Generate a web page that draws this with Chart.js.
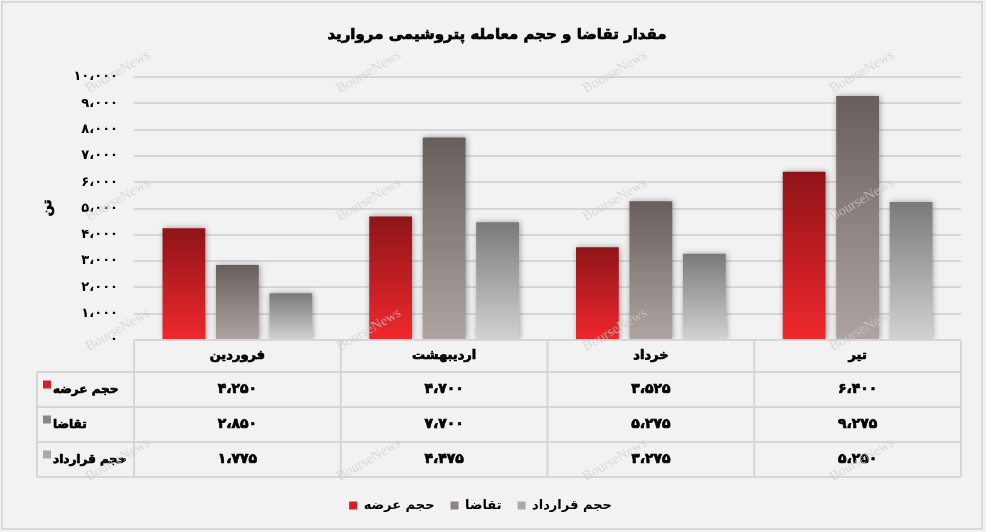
<!DOCTYPE html>
<html>
<head>
<meta charset="utf-8">
<script src="https://cdn.jsdelivr.net/npm/chart.js@4.4.0/dist/chart.umd.min.js"></script>
<style>
  html, body { margin: 0; padding: 0; background: #f2f2f2; }
  canvas { display: block; }
</style>
</head>
<body>
<canvas id="chart" width="986" height="532"></canvas>
<script>
// months and series
const months = ['فروردین', 'اردیبهشت', 'خرداد', 'تیر'];
const seriesNames = ['حجم عرضه', 'تقاضا', 'حجم قرارداد'];
const supply = [4250, 4700, 3525, 6400];
const demand = [2850, 7700, 5275, 9275];
const contract = [1775, 4475, 3275, 5250];
const yMax = 10000;
const yStep = 1000;
const chartTitle = 'مقدار تقاضا و حجم معامله پتروشیمی مروارید';

const FONT = "'DejaVu Sans', sans-serif";
const legendColors = ['#d42126', '#8f8482', '#aaaaaa'];

// english digits -> persian digits, comma -> arabic comma
function fa(n) {
  return Number(n).toLocaleString('en-US')
    .replace(/\d/g, d => '۰۱۲۳۴۵۶۷۸۹'[d])
    .replace(/,/g, '،');
}

function barGrad(top, bottom) {
  return ctx => {
    const c = ctx.chart;
    if (ctx.type !== 'data' || !c.chartArea) return bottom;
    const y = c.scales.y.getPixelForValue(ctx.raw);
    const base = c.scales.y.getPixelForValue(0);
    const g = c.ctx.createLinearGradient(0, y, 0, base);
    g.addColorStop(0, top);
    g.addColorStop(1, bottom);
    return g;
  };
}

// heavier text: fill plus thin stroke
function boldText(ctx, s, x, y) {
  ctx.fillText(s, x, y);
  ctx.strokeText(s, x, y);
}

const tableRows = [supply, demand, contract];

const extras = {
  id: 'extras',
  beforeDraw(chart) {
    const ctx = chart.ctx;
    ctx.save();
    ctx.fillStyle = '#f2f2f2';
    ctx.fillRect(0, 0, chart.width, chart.height);
    ctx.restore();
  },
  beforeDatasetsDraw(chart) {
    const ctx = chart.ctx;
    ctx.save();
    ctx.shadowColor = 'rgba(0,0,0,0.35)';
    ctx.shadowBlur = 6;
    ctx.shadowOffsetX = 1;
    ctx.shadowOffsetY = 0;
  },
  afterDatasetsDraw(chart) {
    const ctx = chart.ctx;
    ctx.restore();

    // data table under the plot
    const xs = chart.scales.x;
    const area = chart.chartArea;
    const half = (area.right - area.left) / months.length / 2;
    const rowsY = [area.bottom, 372, 407, 442, 477];
    const leftX = 37;

    ctx.save();
    ctx.strokeStyle = '#d6d6d6';
    ctx.lineWidth = 2;
    ctx.beginPath();
    ctx.moveTo(area.left, rowsY[0]);
    ctx.lineTo(area.right, rowsY[0]);
    for (let r = 1; r < rowsY.length; r++) {
      ctx.moveTo(leftX, rowsY[r]);
      ctx.lineTo(area.right, rowsY[r]);
    }
    ctx.moveTo(leftX, rowsY[1]);
    ctx.lineTo(leftX, rowsY[4]);
    for (let i = 0; i <= months.length; i++) {
      const x = i < months.length ? xs.getPixelForValue(i) - half : xs.getPixelForValue(i - 1) + half;
      ctx.moveTo(x, rowsY[0]);
      ctx.lineTo(x, rowsY[4]);
    }
    ctx.stroke();

    ctx.fillStyle = '#000';
    ctx.strokeStyle = '#000';
    ctx.lineWidth = 0.7;
    ctx.textAlign = 'center';
    ctx.textBaseline = 'middle';
    ctx.font = 'bold 13px ' + FONT;
    months.forEach((m, i) => {
      boldText(ctx, m, xs.getPixelForValue(i), (rowsY[0] + rowsY[1]) / 2);
    });
    ctx.font = 'bold 14px ' + FONT;
    tableRows.forEach((vals, r) => {
      const cy = (rowsY[r + 1] + rowsY[r + 2]) / 2;
      vals.forEach((v, i) => {
        boldText(ctx, fa(v), xs.getPixelForValue(i), cy);
      });
    });
    ctx.font = 'bold 12px ' + FONT;
    tableRows.forEach((vals, r) => {
      const cy = (rowsY[r + 1] + rowsY[r + 2]) / 2;
      ctx.fillStyle = legendColors[r];
      ctx.fillRect(43, cy - 9, 8, 8);
      ctx.fillStyle = '#000';
      ctx.textAlign = 'left';
      boldText(ctx, seriesNames[r], 53, cy);
    });

    // chart title
    ctx.textAlign = 'center';
    ctx.font = 'bold 15px ' + FONT;
    boldText(ctx, chartTitle, 497, 35);

    // y axis title
    ctx.translate(48, 208);
    ctx.rotate(-Math.PI / 2);
    ctx.font = 'bold 13px ' + FONT;
    boldText(ctx, 'تن', 0, 0);
    ctx.restore();
  },
  afterDraw(chart) {
    const ctx = chart.ctx;
    ctx.save();
    // watermark
    ctx.font = '14px "Liberation Serif", serif';
    ctx.fillStyle = 'rgba(205,205,205,0.7)';
    ctx.textAlign = 'center';
    ctx.textBaseline = 'middle';
    [118, 369, 615, 862].forEach(x => {
      [72, 200, 330, 460].forEach(y => {
        ctx.save();
        ctx.translate(x, y);
        ctx.rotate(-Math.PI / 6);
        ctx.fillText('BourseNews', 0, 0);
        ctx.restore();
      });
    });
    // outer frame
    ctx.strokeStyle = '#d9d9d9';
    ctx.lineWidth = 2;
    ctx.strokeRect(2, 2, 980, 527);
    ctx.restore();
  }
};

new Chart(document.getElementById('chart'), {
  type: 'bar',
  data: {
    labels: months,
    datasets: [
      { label: seriesNames[0], data: supply, backgroundColor: barGrad('#8e1418', '#f0282d') },
      { label: seriesNames[1], data: demand, backgroundColor: barGrad('#685e5b', '#aea4a2') },
      { label: seriesNames[2], data: contract, backgroundColor: barGrad('#7a7a7a', '#d2d2d2') }
    ]
  },
  options: {
    responsive: false,
    animation: false,
    devicePixelRatio: 1,
    barPercentage: 0.8,
    categoryPercentage: 0.776,
    layout: { padding: { left: 0, right: 25, top: 77, bottom: 10 } },
    plugins: {
      title: { display: false },
      legend: {
        position: 'bottom',
        labels: {
          boxWidth: 8,
          boxHeight: 8,
          padding: 16,
          color: '#000',
          font: { family: FONT, size: 13, weight: 'bold' },
          generateLabels: chart => chart.data.datasets.map((d, i) => ({
            text: d.label,
            fillStyle: legendColors[i],
            strokeStyle: legendColors[i],
            lineWidth: 0,
            hidden: false,
            datasetIndex: i,
            fontColor: '#000'
          }))
        }
      },
      tooltip: { enabled: false }
    },
    scales: {
      x: {
        grid: { display: false },
        border: { display: false },
        ticks: { display: false },
        afterFit: s => { s.height = 143; }
      },
      y: {
        min: 0,
        max: yMax,
        ticks: {
          stepSize: yStep,
          padding: 16,
          color: '#000',
          font: { family: FONT, size: 13, weight: 'bold' },
          callback: v => fa(v)
        },
        grid: { color: '#d6d6d6', lineWidth: 2, drawTicks: false },
        border: { display: false },
        afterFit: s => { s.width = 134; }
      }
    }
  },
  plugins: [extras]
});
</script>
</body>
</html>
